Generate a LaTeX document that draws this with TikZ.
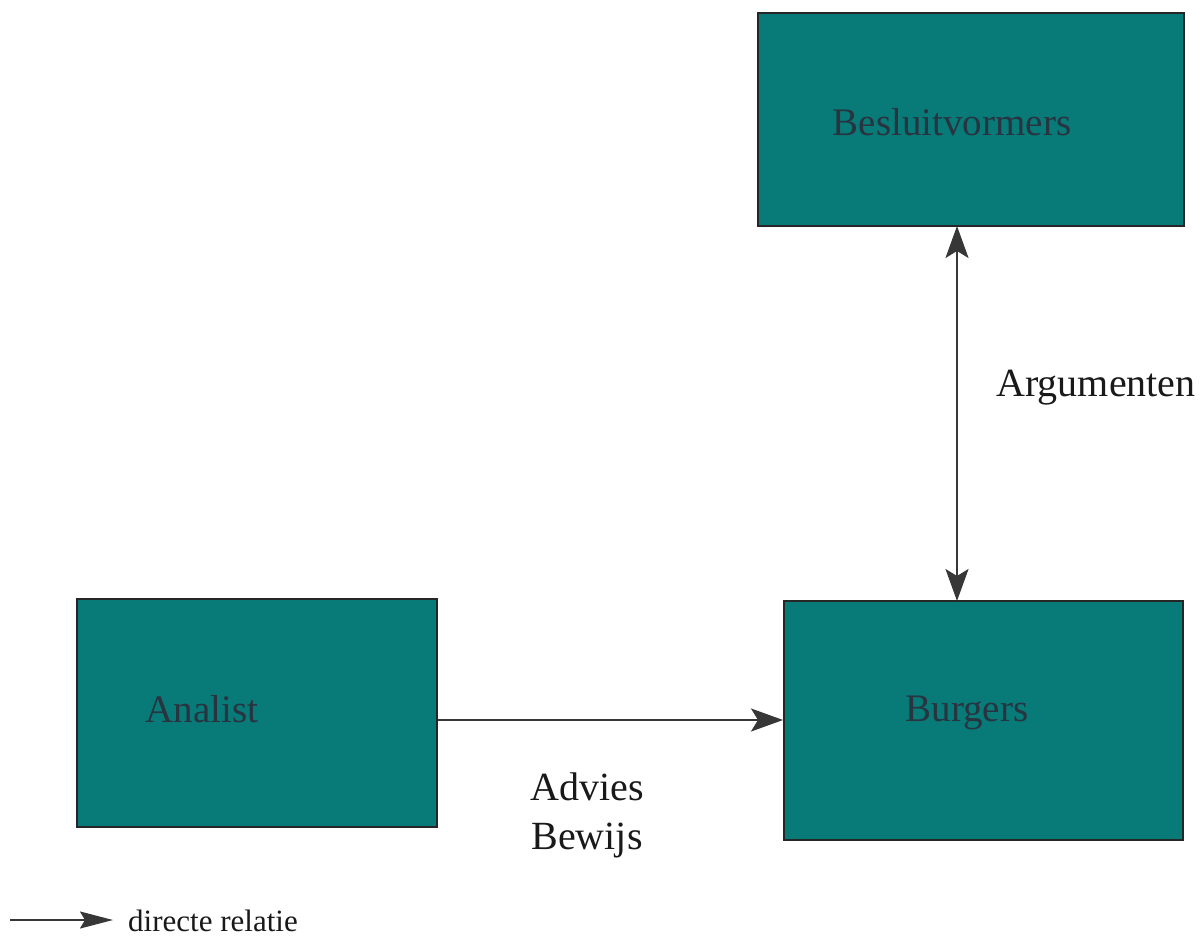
\documentclass[tikz,border=0pt]{standalone}
\usepackage{fontspec}
\setmainfont{Liberation Serif}
\usetikzlibrary{arrows.meta}
\definecolor{tealfill}{RGB}{8,122,120}
\definecolor{boxtext}{RGB}{40,52,64}
\definecolor{linegray}{RGB}{55,55,55}
\tikzset{
  actor/.style={draw=black!85, line width=2pt, fill=tealfill, inner sep=0pt},
  boxlabel/.style={text=boxtext, font=\fontsize{39}{46}\selectfont, inner sep=0pt},
  flowlabel/.style={text=black!90, font=\fontsize{40}{49}\selectfont, inner sep=0pt, align=center},
  bighead/.tip={Stealth[length=32pt,width=23pt,inset=7pt]},
  relation/.style={draw=linegray, line width=2pt, -bighead},
  tworelation/.style={draw=linegray, line width=2pt, bighead-bighead}
}
\begin{document}
\begin{tikzpicture}[x=1pt,y=-1pt]
  \useasboundingbox (0,0) rectangle (1204,936);

  % the three actors
  \node[actor, minimum width=426pt, minimum height=213pt] (besl) at (971,119.5) {};
  \node[actor, minimum width=360pt, minimum height=228pt] (anal) at (257,713) {};
  \node[actor, minimum width=399pt, minimum height=239pt] (burg) at (983.5,720.5) {};

  \node[boxlabel] (tbesl) at (952,122) {Besluitvormers};
  \node[boxlabel] (tanal) at (202,709) {Analist};
  \node[boxlabel] (tburg) at (967,713) {Burgers};

  % relations
  \coordinate (bt) at (957,601);
  \coordinate (bb) at (957,226);
  \draw[tworelation] (bb) -- (bt);
  \draw[relation] (anal.east |- 0,720) -- (burg.west |- 0,720);

  \node[flowlabel] (targ) at (1096,388) {Argumenten};
  \node[flowlabel] (tadv) at (587,815) {Advies\\Bewijs};

  % legend
  \coordinate (la) at (10,920);
  \coordinate (lb) at (113,920);
  \draw[draw=linegray, line width=2pt, -{Stealth[length=33pt,width=17pt,inset=5pt]}] (la) -- (lb);
  \node[font=\fontsize{31}{36}\selectfont, anchor=west, inner sep=0pt, text=black!90] (tleg) at (128,921) {directe relatie};
\end{tikzpicture}
\end{document}
